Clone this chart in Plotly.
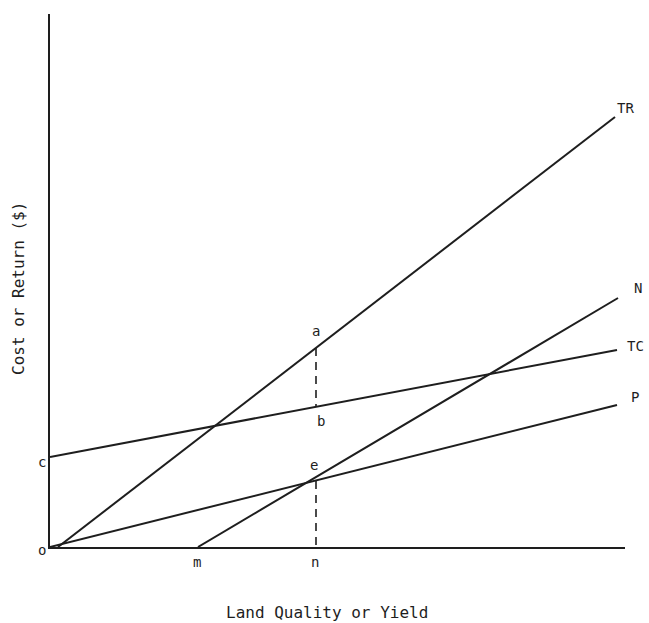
import plotly.graph_objects as go

# Data (abstract units)
tr_x = [0.8, 56.5]
tr_y = [0.0, 43.0]
n_x = [14.8, 56.8]
n_y = [0.0, 24.9]
tc_x = [0.0, 56.7]
tc_y = [9.0, 19.7]
p_x = [0.0, 56.7]
p_y = [0.0, 14.2]
ab_x = [26.6, 26.6]
ab_y = [19.9, 14.0]
en_x = [26.6, 26.6]
en_y = [6.6, 0.0]

line_labels = ["TR", "N", "TC", "P"]
line_label_x = [56.5, 58.2, 57.5, 57.9]
line_label_y = [43.9, 25.9, 20.1, 15.0]

pt_labels = ["a", "b", "e", "c", "o", "m", "n"]
pt_x = [26.6, 27.1, 26.4, -0.8, -0.8, 14.7, 26.5]
pt_y = [21.6, 12.6, 8.2, 8.5, -0.3, -1.5, -1.5]

XMAX, YMAX = 57.5, 53.3

col = "#1e1e1e"
fam = "DejaVu Sans Mono"
fig = go.Figure()
for xs, ys in [(tr_x, tr_y), (n_x, n_y), (tc_x, tc_y), (p_x, p_y)]:
    fig.add_trace(go.Scatter(x=xs, y=ys, mode="lines",
                             line=dict(color=col, width=2), cliponaxis=False,
                             showlegend=False, hoverinfo="skip"))
for xs, ys in [(ab_x, ab_y), (en_x, en_y)]:
    fig.add_trace(go.Scatter(x=xs, y=ys, mode="lines",
                             line=dict(color=col, width=1.6, dash="8px,6px"),
                             showlegend=False, hoverinfo="skip"))

font = dict(family=fam, size=14, color=col)
for t, x, y in zip(line_labels, line_label_x, line_label_y):
    fig.add_annotation(x=x / XMAX, y=y / YMAX, xref="paper", yref="paper",
                       text=t, showarrow=False, font=font,
                       xanchor="left", yanchor="middle")
for t, x, y in zip(pt_labels, pt_x, pt_y):
    fig.add_annotation(x=x / XMAX, y=y / YMAX, xref="paper", yref="paper",
                       text=t, showarrow=False, font=font,
                       xanchor="center", yanchor="middle")

fig.add_annotation(x=27.7 / XMAX, y=-6.5 / YMAX, xref="paper", yref="paper",
                   text="Land Quality or Yield", showarrow=False,
                   xanchor="center", yanchor="middle",
                   font=dict(family=fam, size=16, color=col))
fig.add_annotation(x=-3.1 / XMAX, y=25.8 / YMAX, xref="paper", yref="paper",
                   text="Cost or Return ($)", showarrow=False,
                   textangle=-90, xanchor="center", yanchor="middle",
                   font=dict(family=fam, size=16, color=col))

axis_common = dict(showgrid=False, zeroline=False, showticklabels=False,
                   ticks="", showline=True, linecolor=col, linewidth=2)
fig.update_xaxes(range=[0, XMAX], **axis_common)
fig.update_yaxes(range=[0, YMAX], **axis_common)
fig.update_layout(width=649, height=623,
                  margin=dict(l=50, r=24, t=14, b=76),
                  plot_bgcolor="white", paper_bgcolor="white",
                  hovermode=False)
fig.write_html("out.html",
               config={"displayModeBar": False, "staticPlot": True},
               post_script="document.body.style.margin='0';"
                           "document.body.style.overflow='hidden';")
